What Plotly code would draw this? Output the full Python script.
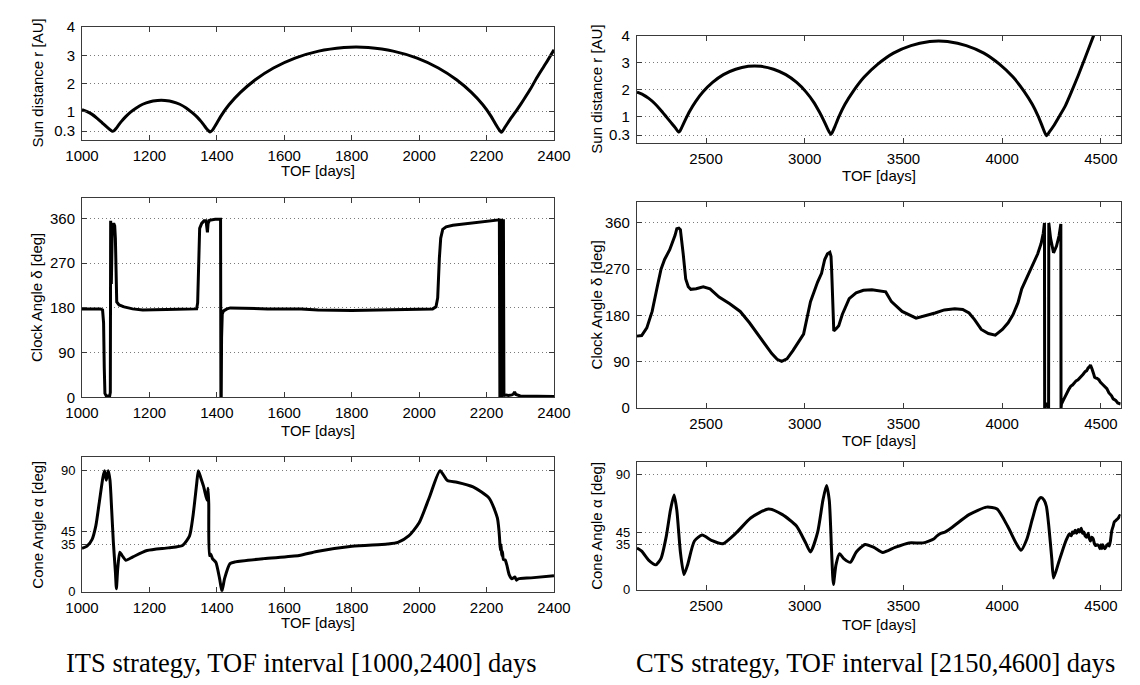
import plotly.graph_objects as go

# ---------------- ITS strategy, TOF 1000-2400 days ----------------
its_r_tof = [1000, 1015, 1030, 1045, 1060, 1075, 1090,
             1095, 1101, 1108, 1117, 1129, 1144, 1161, 1180, 1202, 1224,
             1235, 1246, 1268, 1290, 1309, 1326, 1341, 1353, 1362, 1369, 1375, 1380,
             1387, 1397, 1412, 1436, 1470, 1514, 1568, 1632, 1702, 1777,
             1813, 1849, 1923, 1994, 2057, 2111, 2155, 2189, 2213, 2228, 2238, 2244,
             2255, 2270, 2290, 2310, 2330, 2350, 2375, 2400]
its_r = [1.07, 1.00, 0.90, 0.76, 0.60, 0.44, 0.30,
         0.32, 0.40, 0.51, 0.65, 0.81, 0.98, 1.13, 1.26, 1.35, 1.39,
         1.40, 1.39, 1.35, 1.26, 1.13, 0.97, 0.81, 0.65, 0.51, 0.40, 0.32, 0.27,
         0.34, 0.53, 0.84, 1.24, 1.68, 2.13, 2.55, 2.90, 3.15, 3.28,
         3.30, 3.28, 3.15, 2.90, 2.55, 2.13, 1.68, 1.24, 0.84, 0.53, 0.34, 0.26,
         0.45, 0.72, 1.06, 1.42, 1.80, 2.22, 2.70, 3.20]

its_clock_tof = [1000, 1055, 1061, 1064, 1066, 1068, 1072, 1082, 1084, 1085,
                 1086, 1087, 1088, 1090, 1094, 1097, 1099, 1101, 1103, 1110,
                 1125, 1150, 1180, 1250, 1340, 1343, 1346, 1349, 1355, 1362,
                 1368, 1370, 1372, 1374, 1378, 1395, 1410, 1411, 1412, 1413,
                 1414, 1416, 1420, 1430, 1440, 1480, 1550, 1650, 1700, 1800,
                 1900, 2000, 2040, 2050, 2055, 2060, 2064, 2070, 2080, 2100,
                 2150, 2200, 2236, 2238, 2239.5, 2241, 2242.5, 2244, 2245.5, 2247,
                 2248.5, 2250, 2251.5, 2253, 2258, 2265, 2275, 2280, 2283, 2287,
                 2300, 2400]
its_clock = [178, 178, 176, 150, 60, 8, 3, 3, 10, 355,
             300, 228, 300, 345, 350, 345, 320, 230, 192, 186,
             182, 178, 176, 177, 178, 190, 280, 340, 350, 355,
             355, 345, 332, 350, 356, 358, 359, 358, 1, 0,
             120, 168, 174, 178, 180, 179, 178, 178, 176, 175,
             176, 177, 178, 182, 200, 280, 320, 338, 343, 346,
             350, 354, 357, 359, 1, 358, 2, 359, 1, 357,
             3, 358, 2, 4, 5, 4, 5, 7, 11, 6,
             3, 2]

its_cone_tof = [1000, 1015, 1030, 1041, 1051, 1062, 1067, 1072, 1078, 1083,
                1088, 1093, 1099, 1102, 1106, 1112, 1119, 1130, 1151, 1193,
                1256, 1298, 1319, 1329, 1340, 1345, 1352, 1361, 1371, 1374,
                1376, 1378, 1382, 1387, 1397, 1408, 1415, 1423, 1439, 1455,
                1539, 1644, 1696, 1801, 1906, 1937, 1969, 2000, 2031, 2062,
                2084, 2112, 2160, 2208, 2232, 2237, 2239, 2241, 2243, 2245,
                2247, 2250, 2255, 2260, 2267, 2275, 2284, 2289, 2294, 2332,
                2400]
its_cone = [32.4, 34, 39, 49, 66, 85, 90, 83, 90, 83,
            61, 37, 15, 2.4, 17.4, 29.5, 27, 23.5, 26, 30.7,
            32.7, 34.4, 41.6, 56, 80, 90, 85, 78, 68, 77,
            65, 27, 28, 24.7, 22, 10, 0.5, 10, 21, 22.3,
            24.7, 27, 30, 33.9, 35.6, 36.8, 41.6, 51.3, 70.7, 90,
            82.7, 81.5, 78, 69.5, 55, 45, 38, 31, 35, 27,
            30, 24, 23.7, 20, 12.8, 9.7, 11, 8.7, 9.7, 10.4,
            12]

# ---------------- CTS strategy, TOF 2150-4600 days ----------------
cts_r_tof = [2150, 2180, 2210, 2240, 2270, 2300, 2325, 2345, 2360,
             2368, 2379, 2395, 2417, 2447, 2486, 2533, 2588, 2650, 2714,
             2746, 2778, 2842, 2904, 2959, 3006, 3045, 3075, 3097, 3113, 3124, 3132,
             3140, 3153, 3173, 3203, 3246, 3301, 3370, 3449, 3538, 3633,
             3678, 3723, 3818, 3907, 3986, 4055, 4110, 4153, 4183, 4203, 4215, 4224,
             4240, 4260, 4285, 4319, 4350, 4385, 4420, 4462, 4490, 4520]
cts_r = [1.90, 1.81, 1.67, 1.48, 1.24, 0.97, 0.75, 0.57, 0.42,
         0.46, 0.62, 0.87, 1.19, 1.55, 1.92, 2.26, 2.55, 2.75, 2.86,
         2.87, 2.86, 2.75, 2.55, 2.26, 1.91, 1.53, 1.15, 0.83, 0.58, 0.42, 0.33,
         0.41, 0.63, 0.99, 1.44, 1.94, 2.46, 2.94, 3.35, 3.63, 3.78,
         3.80, 3.78, 3.63, 3.35, 2.94, 2.46, 1.94, 1.44, 0.99, 0.63, 0.41, 0.28,
         0.43, 0.64, 0.95, 1.38, 1.90, 2.52, 3.18, 3.98, 4.50, 5.00]

cts_clock_tof = [2150, 2174, 2200, 2227, 2254, 2272, 2290, 2316, 2343, 2352,
                 2362, 2370, 2384, 2397, 2410, 2423, 2450, 2486, 2520, 2566,
                 2620, 2673, 2720, 2762, 2800, 2833, 2860, 2883, 2910, 2940,
                 2994, 3010, 3029, 3065, 3085, 3101, 3115, 3127, 3133, 3136,
                 3147, 3160, 3172, 3190, 3210, 3225, 3260, 3297, 3340, 3395,
                 3410, 3439, 3493, 3564, 3618, 3660, 3707, 3760, 3800, 3832,
                 3860, 3894, 3930, 3965, 4001, 4030, 4055, 4080, 4099, 4125,
                 4153, 4180, 4197, 4208, 4214, 4215, 4225, 4235, 4236, 4245,
                 4260, 4275, 4288, 4297, 4298, 4300, 4308, 4315, 4322, 4330,
                 4338, 4348, 4356, 4365, 4374, 4384, 4392, 4400, 4410, 4420,
                 4428, 4435, 4441, 4447, 4451, 4455, 4462, 4468, 4473, 4480,
                 4490, 4498, 4509, 4518, 4530, 4540, 4554, 4562, 4575, 4585,
                 4600]
cts_clock = [140, 141, 156, 188, 238, 270, 289, 308, 336, 349,
             350, 347, 301, 251, 236, 231, 232, 236, 232, 216,
             203, 188, 166, 144, 123, 106, 95, 91, 96, 112,
             144, 170, 207, 245, 262, 289, 300, 303, 295, 270,
             150, 155, 160, 182, 202, 213, 224, 229, 230, 228,
             226, 207, 188, 175, 180, 185, 191, 193, 192, 185,
             172, 153, 145, 142, 153, 166, 182, 205, 232, 253,
             276, 300, 320, 340, 360, 0, 10, 0, 360, 330,
             302, 315, 335, 358, 0, 8, 14, 20, 24, 30,
             37, 43, 45, 49, 53, 55, 58, 62, 66, 71,
             73, 78, 80, 84, 78, 76, 68, 60, 59, 58,
             55, 50, 46, 42, 38, 30, 24, 18, 15, 10,
             8]

cts_cone_tof = [2150, 2174, 2209, 2245, 2272, 2299, 2320, 2338, 2352, 2370,
                2388, 2406, 2441, 2480, 2530, 2584, 2655, 2726, 2816, 2887,
                2958, 3003, 3029, 3065, 3092, 3110, 3124, 3136, 3145, 3158,
                3176, 3199, 3231, 3261, 3306, 3350, 3395, 3457, 3528, 3600,
                3653, 3670, 3689, 3710, 3740, 3760, 3832, 3921, 3974, 4027,
                4072, 4095, 4125, 4152, 4179, 4197, 4212, 4224, 4236, 4251,
                4260, 4287, 4314, 4325, 4340, 4350, 4355, 4362, 4370, 4377,
                4385, 4392, 4400, 4407, 4413, 4420, 4428, 4435, 4441, 4447,
                4453, 4460, 4467, 4473, 4480, 4490, 4495, 4500, 4505, 4509,
                4515, 4520, 4528, 4536, 4542, 4548, 4555, 4562, 4568, 4575,
                4582, 4589, 4595, 4600]
cts_cone = [32.5, 30, 23, 19.3, 24.4, 42, 62.4, 73.9, 62, 29.4,
            11.7, 19, 38, 42.6, 38.3, 35.8, 44.7, 56, 63, 58.6,
            49.7, 37, 29.4, 44.7, 70, 81.5, 70, 29.4, 4, 19.3,
            28, 24, 21.3, 29.4, 35.3, 33, 29, 33, 36.5, 36.5,
            39.6, 42, 44, 45, 48, 50.3, 58.6, 64.5, 63, 49.7,
            35.8, 30.7, 39.6, 54.8, 68.8, 72, 70, 65, 49.7, 24.4,
            9, 21.8, 34.5, 39, 43.4, 42, 45, 44, 46.5, 44,
            47, 45, 48, 44, 45, 42, 41, 44, 40, 38,
            41, 40, 36, 34.5, 35, 34, 32, 35, 32, 35,
            33, 32, 34, 35.8, 34, 38, 46, 49.7, 53, 54,
            55, 56, 58, 57.4]

# axis ticks
its_xticks = [1000, 1200, 1400, 1600, 1800, 2000, 2200, 2400]
cts_xticks = [2500, 3000, 3500, 4000, 4500]
r_ticks = [0.3, 1, 2, 3, 4]
r_ticklabels = ["0.3", "1", "2", "3", "4"]
clock_ticks = [0, 90, 180, 270, 360]
cone_ticks = [0, 35, 45, 90]

r_title = "Sun distance r [AU]"
clock_title = "Clock Angle \u03b4 [deg]"
cone_title = "Cone Angle \u03b1 [deg]"
x_title = "TOF [days]"
captions = ["ITS strategy, TOF interval [1000,2400] days",
            "CTS strategy, TOF interval [2150,4600] days"]

W, H = 1140, 685
SANS = "Liberation Sans, Arial, sans-serif"
SERIF = "Liberation Serif, Times New Roman, serif"
AXC = "#3a3a3a"

# plot frames in pixels: (left, right) per column, (top, bottom) per row
cols = {"its": (67, 553.5), "cts": (639, 1137.6)}
rows = {
    "its": [(18.7, 134.0), (194.3, 398.3), (459.7, 597.7)],
    "cts": [(27.3, 137.7), (198.3, 409.3), (464.3, 595.3)],
}
ylab_x = {"its": 20.7, "cts": 597.0}
xtitle_y = {"its": [166, 432, 629], "cts": [171, 442, 631]}

panels = [
    ("its", 0, its_r_tof, its_r, [1000, 2400], its_xticks, [0, 4], r_ticks, r_ticklabels, r_title, "spline"),
    ("its", 1, its_clock_tof, its_clock, [1000, 2400], its_xticks, [0, 400], clock_ticks, None, clock_title, "linear"),
    ("its", 2, its_cone_tof, its_cone, [1000, 2400], its_xticks, [0, 100], cone_ticks, None, cone_title, "spline"),
    ("cts", 0, cts_r_tof, cts_r, [2150, 4600], cts_xticks, [0, 4], r_ticks, r_ticklabels, r_title, "spline"),
    ("cts", 1, cts_clock_tof, cts_clock, [2150, 4600], cts_xticks, [0, 400], clock_ticks, None, clock_title, "linear"),
    ("cts", 2, cts_cone_tof, cts_cone, [2150, 4600], cts_xticks, [0, 100], cone_ticks, None, cone_title, "spline"),
]

fig = go.Figure()
layout = dict(
    width=W, height=H,
    margin=dict(l=0, r=0, t=0, b=0),
    paper_bgcolor="white", plot_bgcolor="white",
    showlegend=False,
    annotations=[],
)

common = dict(
    showline=True, linecolor=AXC, linewidth=1, mirror="allticks",
    ticks="inside", ticklen=5, tickcolor=AXC, tickwidth=1,
    zeroline=False, fixedrange=True,
)

for i, (col, row, xs, ys, xr, xt, yr, yt, ytl, ytitle, shape) in enumerate(panels):
    n = "" if i == 0 else str(i + 1)
    left, right = cols[col]
    top, bottom = rows[col][row]
    fig.add_trace(go.Scatter(
        x=xs, y=ys, mode="lines",
        line=dict(color="black", width=3, shape=shape, smoothing=0.6 if shape == "spline" else None),
        xaxis="x" + n, yaxis="y" + n, hoverinfo="skip",
    ))
    layout["xaxis" + n] = dict(
        common, domain=[left / W, right / W], range=xr, tickvals=xt,
        tickfont=dict(family=SANS, size=15, color="black"),
        showgrid=False, anchor="y" + n, ticklabelstandoff=2,
    )
    # the 35/45 cone labels sit close together, so they get a slightly smaller font
    ysize = 13 if row == 2 else 15
    layout["yaxis" + n] = dict(
        common, domain=[1 - bottom / H, 1 - top / H], range=yr, tickvals=yt,
        ticktext=ytl if ytl else [str(v) for v in yt],
        tickfont=dict(family=SANS, size=ysize, color="black"),
        showgrid=True, gridcolor="#7a7a7a", griddash="1px,3px", gridwidth=1,
        anchor="x" + n, ticklabelstandoff=3,
    )
    # y-axis title
    layout["annotations"].append(dict(
        text=ytitle, xref="paper", yref="paper",
        x=ylab_x[col] / W, y=1 - (top + bottom) / 2 / H,
        xanchor="center", yanchor="middle", textangle=-90, showarrow=False,
        font=dict(family=SANS, size=15, color="black"),
    ))
    # x-axis title
    layout["annotations"].append(dict(
        text=x_title, xref="paper", yref="paper",
        x=(left + right) / 2 / W, y=1 - xtitle_y[col][row] / H,
        xanchor="center", yanchor="middle", showarrow=False,
        font=dict(family=SANS, size=15, color="black"),
    ))

for cap, cx in zip(captions, [293.5, 885.0]):
    layout["annotations"].append(dict(
        text=cap, xref="paper", yref="paper", x=cx / W, y=1 - 671 / H,
        xanchor="center", yanchor="middle", showarrow=False,
        font=dict(family=SERIF, size=26.5, color="black"),
    ))

fig.update_layout(**layout)
fig.write_html("out.html")
